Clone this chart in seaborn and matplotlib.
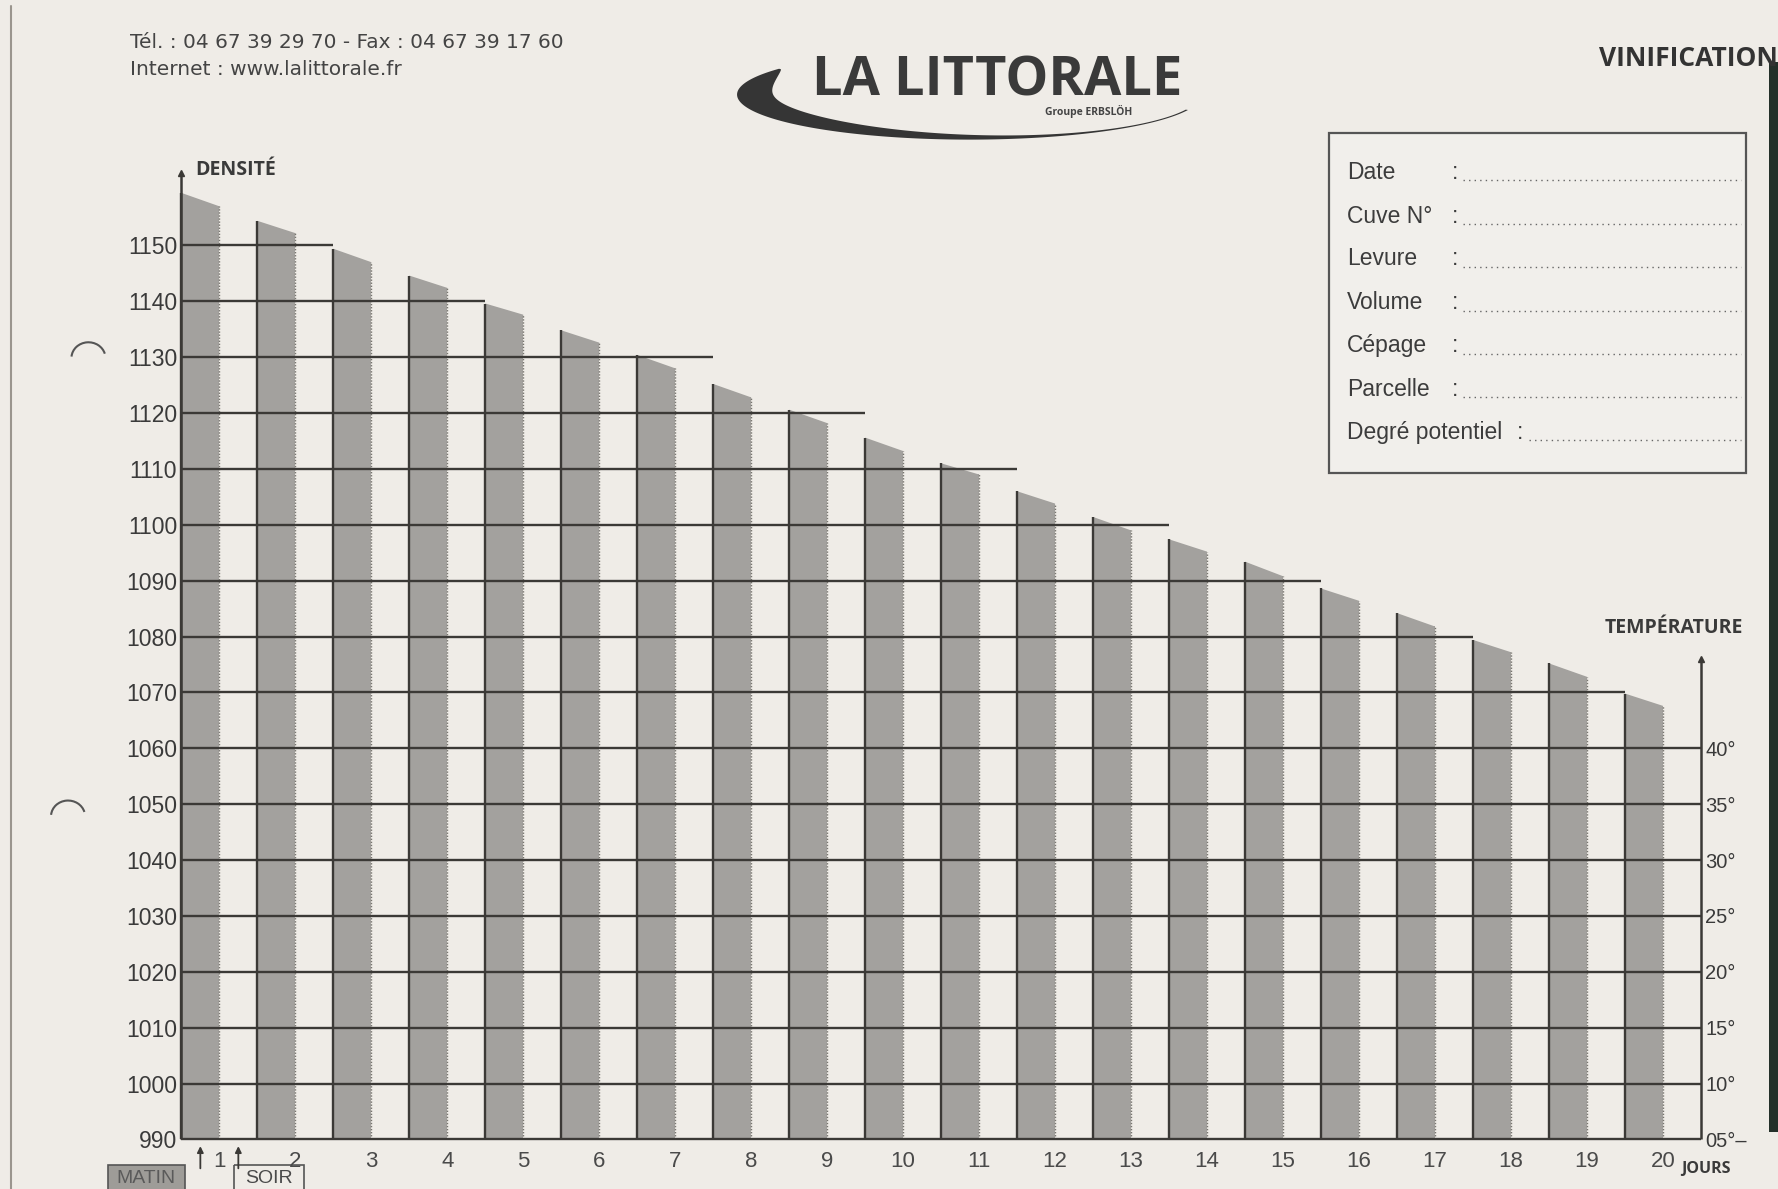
import numpy as np
import pandas as pd
import matplotlib
matplotlib.use("Agg")
import matplotlib.pyplot as plt
import seaborn as sns
from matplotlib.patches import Rectangle, Arc, Polygon

# ---------------- data ----------------
jours = list(range(1, 21))
# density read at the left (matin) and right (soir) corner of each slanted bar top
sommet_gauche = [1159.4, 1154.4, 1149.4, 1144.6, 1139.6, 1134.8, 1130.4, 1125.2, 1120.6, 1115.6,
                 1111.0, 1106.0, 1101.4, 1097.4, 1093.4, 1088.6, 1084.2, 1079.4, 1075.2, 1069.8]
sommet_droit = [1157.0, 1152.2, 1147.0, 1142.4, 1137.6, 1132.6, 1128.0, 1122.8, 1118.2, 1113.2,
                1109.0, 1103.8, 1099.0, 1095.2, 1090.8, 1086.4, 1081.8, 1077.2, 1072.8, 1067.6]
densite_ticks = list(range(990, 1151, 10))
temperature_ticks = [5, 10, 15, 20, 25, 30, 35, 40]
temperature_labels = ["05°–", "10°", "15°", "20°", "25°", "30°", "35°", "40°"]
info_champs = ["Date", "Cuve N°", "Levure", "Volume", "Cépage", "Parcelle", "Degré potentiel"]
entete_1 = "Tél. : 04 67 39 29 70 - Fax : 04 67 39 17 60"
entete_2 = "Internet : www.lalittorale.fr"

# ---------------- style ----------------
PAPER = "#efece7"
BAR = "#a3a19e"
LINE = "#3b3936"
TXT = "#3a3a3a"
BOLDF = ["Open Sans", "DejaVu Sans"]

sns.set_theme(style="white")
plt.rcParams["font.family"] = ["Liberation Sans", "DejaVu Sans"]

fig = plt.figure(figsize=(17.78, 11.89), dpi=100, facecolor=PAPER)

# decoration layer in "photo pixel" coordinates (1568 x 1056 frame)
deco = fig.add_axes([0, 0, 1, 1], zorder=0)
deco.set_xlim(0, 1568)
deco.set_ylim(1056, 0)
deco.axis("off")

# main chart
ax = fig.add_axes([0.102, 0.0417, 0.8546, 0.8365], zorder=2)
ax.set_facecolor("none")

df = pd.DataFrame({"jour": jours, "gauche": sommet_gauche, "droit": sommet_droit})
df["x_matin"] = df["jour"] - 0.25
sns.barplot(data=df, x="x_matin", y="droit", native_scale=True, width=0.5,
            color=BAR, saturation=1, linewidth=0, errorbar=None, ax=ax, zorder=1)

# slanted caps of the bars
for j, g, d in zip(jours, sommet_gauche, sommet_droit):
    ax.fill([j - 0.5, j - 0.5, j, j], [d - 0.6, g, d, d - 0.6], color=BAR, lw=0, zorder=1)

ax.set_xlim(0.5, 20.5)
ax.set_ylim(990, 1168)

# horizontal grid lines, each running up to the last column whose bar reaches it
for L in densite_ticks:
    reach = [j for j, g in zip(jours, sommet_gauche) if g >= L]
    xend = (max(reach) + 0.5) if reach else 0.5
    ax.hlines(L, 0.5, xend, color=LINE, lw=1.7, zorder=3, clip_on=False)

# vertical strong edges (left of each bar) and dotted right edge
for j, g, d in zip(jours, sommet_gauche, sommet_droit):
    ax.vlines(j - 0.5, 990, g, color=LINE, lw=1.7, zorder=3, clip_on=False)
    ax.vlines(j, 990, d, color="#77756f", lw=1.0, linestyles=(0, (1, 1.2)), zorder=2)

# axes with arrows
ax.vlines(0.5, 990, 1163, color=LINE, lw=1.8, zorder=4, clip_on=False)
ax.plot([0.5], [1163], marker="^", ms=5, color=LINE, zorder=4, clip_on=False)
ax.text(0.68, 1163.5, "DENSITÉ", fontsize=14, fontweight="bold", color=TXT,
        va="center", ha="left", family=BOLDF)
ax.vlines(20.5, 990, 1076, color=LINE, lw=1.8, zorder=4, clip_on=False)
ax.plot([20.5], [1076], marker="^", ms=5, color=LINE, zorder=4, clip_on=False)
ax.text(19.23, 1081.5, "TEMPÉRATURE", fontsize=14, fontweight="bold", color=TXT,
        va="center", ha="left", family=BOLDF)

for s in ax.spines.values():
    s.set_visible(False)
ax.set_yticks(densite_ticks)
ax.set_yticklabels([str(v) for v in densite_ticks])
ax.set_xticks(jours)
ax.set_xticklabels([str(j) for j in jours])
ax.tick_params(axis="y", length=0, pad=3, labelsize=16.5, labelcolor=TXT)
ax.tick_params(axis="x", length=0, pad=8, labelsize=16, labelcolor="#4a4a4a")
ax.set_xlabel("")
ax.set_ylabel("")
ax.annotate("JOURS", xy=(20, 990), xytext=(13, -21), textcoords="offset points",
            ha="left", va="center", fontsize=11.5, fontweight="bold", color=TXT,
            family=BOLDF, annotation_clip=False)

# temperature scale: 05° at 990, +5° per 10 density units
tw = ax.twinx()
tw.set_ylim(5, 5 + (1168 - 990) / 2)
tw.set_yticks(temperature_ticks)
tw.set_yticklabels(temperature_labels)
tw.tick_params(axis="y", length=0, pad=3, labelsize=14.5, labelcolor=TXT)
for s in tw.spines.values():
    s.set_visible(False)
tw.grid(False)
ax.grid(False)

# MATIN / SOIR arrows
for xm in (0.75, 1.25):
    ax.annotate("", xy=(xm, 988.8), xytext=(0, -16), textcoords="offset points",
                arrowprops=dict(arrowstyle="-|>", color=LINE, lw=1.3, mutation_scale=9,
                                shrinkA=0, shrinkB=0), annotation_clip=False)

# ---------------- decorations ----------------
deco.add_patch(Rectangle((95, 1035), 68, 30, facecolor="#9e9c98", edgecolor="#555", lw=1.2))
deco.text(129, 1047, "MATIN", fontsize=14, color="#5a5a5a", ha="center", va="center")
deco.add_patch(Rectangle((206, 1035), 62, 30, facecolor="none", edgecolor="#555", lw=1.2))
deco.text(237, 1047, "SOIR", fontsize=14, color="#4a4a4a", ha="center", va="center")

# header
deco.text(115, 38, entete_1, fontsize=14.5, color="#444", ha="left", va="center",
          family=["DejaVu Sans"])
deco.text(115, 62, entete_2, fontsize=14.5, color="#444", ha="left", va="center",
          family=["DejaVu Sans"])
deco.text(1410, 52, "VINIFICATION", fontsize=19, fontweight="bold", color="#333",
          ha="left", va="center", family=BOLDF)

# logo
cx, cy, a, b = 855, 84, 205, 40
t = np.radians(np.linspace(20, 215, 200))
s = (t - t[0]) / (t[-1] - t[0])
w = s ** 3 * (1 - s) ** 0.9
w = 0.15 * w / w.max() + 0.01
xo, yo = cx + a * np.cos(t), cy + b * np.sin(t)
xi, yi = cx + (1 - w) * a * np.cos(t), cy + (1 - w * 2.2) * b * np.sin(t)
deco.add_patch(Polygon(np.column_stack([np.r_[xo, xi[::-1]], np.r_[yo, yi[::-1]]]),
                       closed=True, facecolor="#353535", edgecolor="none"))
deco.text(716, 72, "LA LITTORALE", fontsize=39, fontweight="bold", color="#3a3a3a",
          ha="left", va="center", family=BOLDF)
deco.text(922, 99, "Groupe ERBSLÖH", fontsize=7.5, fontweight="bold", color="#444",
          ha="left", va="center", family=BOLDF)

# information box
deco.add_patch(Rectangle((1172, 118), 368, 302, facecolor="#f1efeb", edgecolor="#555", lw=1.6))
ys = [153, 192, 230, 269, 307, 346, 384]
for lab, y in zip(info_champs, ys):
    deco.text(1188, y, lab, fontsize=16.5, color="#3c3c3c", ha="left", va="center")
    xc = 1338 if lab == "Degré potentiel" else 1280
    deco.text(xc, y, ":", fontsize=16.5, color="#3c3c3c", ha="left", va="center")
    deco.plot([xc + 10, 1535], [y + 7, y + 7], color="#666", lw=1.0,
              linestyle=(0, (1, 3)))

# binder holes and page edges
deco.add_patch(Arc((78, 318), 30, 28, theta1=185, theta2=345, color="#555", lw=1.5))
deco.add_patch(Arc((60, 725), 30, 28, theta1=185, theta2=345, color="#555", lw=1.5))
deco.plot([10, 10], [5, 1056], color="#9a958e", lw=1.5)
deco.add_patch(Rectangle((1560, 55), 8, 950, facecolor="#24302a", edgecolor="none"))

fig.savefig("out.png", dpi=100, facecolor=PAPER)
